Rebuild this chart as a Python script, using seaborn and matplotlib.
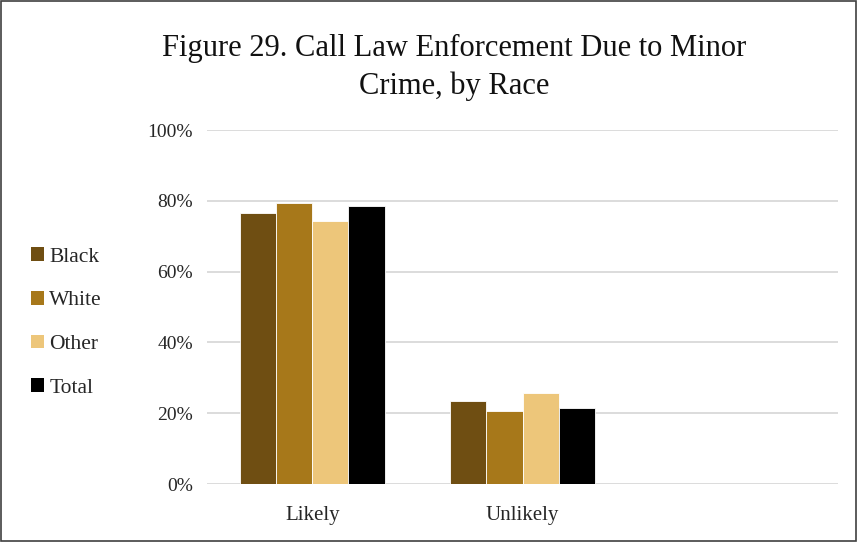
import pandas as pd
import seaborn as sns
import matplotlib.pyplot as plt
from matplotlib.patches import Rectangle, Patch
from matplotlib.ticker import PercentFormatter

categories = ["Likely", "Unlikely", ""]
groups = ["Black", "White", "Other", "Total"]
likely = [76.6, 79.3, 74.3, 78.6]
unlikely = [23.4, 20.7, 25.8, 21.4]
colors = ["#6F4E12", "#A7781A", "#EDC67A", "#000000"]
yticks = [0, 20, 40, 60, 80, 100]

rows = []
for g, v in zip(groups, likely):
    rows.append({"cat": "Likely", "group": g, "value": v})
for g, v in zip(groups, unlikely):
    rows.append({"cat": "Unlikely", "group": g, "value": v})
df = pd.DataFrame(rows)

sns.set_style("white")
plt.rcParams["font.family"] = ["Liberation Serif", "DejaVu Serif"]

fig = plt.figure(figsize=(8.58, 5.42), dpi=100)
ax = fig.add_axes([0.2413, 0.107, 0.7354, 0.653])

sns.barplot(data=df, x="cat", y="value", hue="group", order=categories,
            hue_order=groups, palette=colors, saturation=1, width=0.69,
            edgecolor="white", linewidth=0.6, ax=ax, legend=False)

ax.set_ylim(0, 100)
ax.set_xlim(-0.5, 2.5)
ax.set_yticks(yticks)
ax.yaxis.set_major_formatter(PercentFormatter(decimals=0))
ax.yaxis.grid(True, color="#D9D9D9", linewidth=1.3)
ax.set_axisbelow(True)
for s in ax.spines.values():
    s.set_visible(False)
ax.tick_params(axis="y", length=0, pad=10, labelsize=14, labelcolor="#262626")
ax.tick_params(axis="x", length=0, pad=16, labelsize=15, labelcolor="#262626")
ax.set_xlabel("")
ax.set_ylabel("")

fig.text(0.529, 0.875, "Figure 29. Call Law Enforcement Due to Minor\nCrime, by Race",
         ha="center", va="center", fontsize=22, linespacing=1.36, color="#111111")

handles = [Patch(facecolor=c, edgecolor="none") for c in colors]
fig.legend(handles, groups, loc="center left", bbox_to_anchor=(0.036, 0.405),
           frameon=False, fontsize=15.5, handlelength=0.6, handleheight=0.6,
           handletextpad=0.25, labelspacing=1.13, borderaxespad=0, borderpad=0)

fig.patches.append(Rectangle((0.001, 0.002), 0.997, 0.996, transform=fig.transFigure,
                             fill=False, edgecolor="#404040", linewidth=1.2))

fig.savefig("out.png", dpi=100)
